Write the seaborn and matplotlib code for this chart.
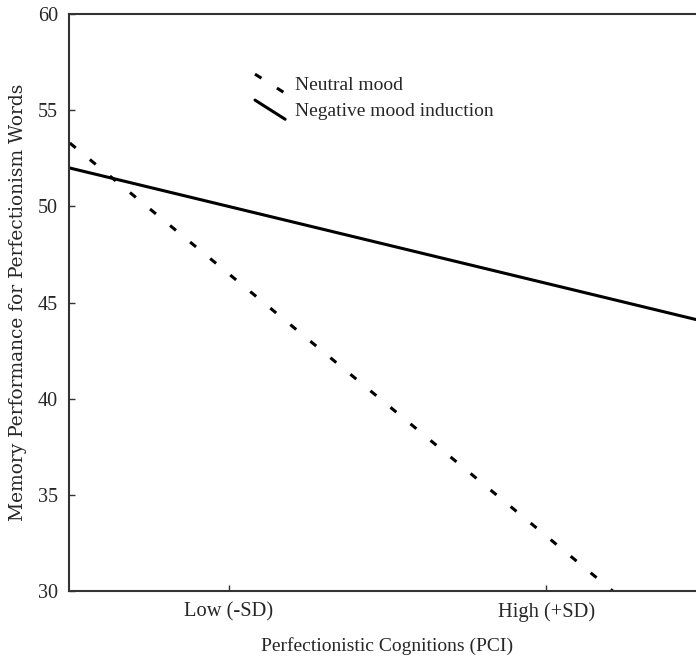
import numpy as np
import pandas as pd
import matplotlib
matplotlib.use("Agg")
import matplotlib.pyplot as plt
import seaborn as sns
from matplotlib.legend_handler import HandlerLine2D
from matplotlib.lines import Line2D

# ---- data ----
x_pos = [-2, -1, 1, 2]                      # -2SD edge, Low, High, +2SD edge
neutral = [53.3, 46.5, 32.85, 26.0]         # Neutral mood
negative = [52.0, 50.0, 46.0, 44.0]         # Negative mood induction
series_names = ["Neutral mood", "Negative mood induction"]
tick_pos = [-1, 1]
tick_labels = ["Low (-SD)", "High (+SD)"]
y_ticks = [30, 35, 40, 45, 50, 55, 60]

df = pd.DataFrame({
    "x": x_pos * 2,
    "y": neutral + negative,
    "series": [series_names[0]] * len(x_pos) + [series_names[1]] * len(x_pos),
})

sns.set_style("ticks")
plt.rcParams["font.family"] = ["Liberation Serif", "DejaVu Serif"]
plt.rcParams["xtick.direction"] = "in"
plt.rcParams["ytick.direction"] = "in"

fig = plt.figure(figsize=(6.96, 6.61), dpi=100)
ax = fig.add_axes([69 / 696, (661 - 590.7) / 661, 636 / 696, (590.7 - 14.3) / 661])

LW = 2.2
DASH = (2.5, 6.0)
dash_map = {series_names[0]: DASH, series_names[1]: ""}
sns.lineplot(data=df, x="x", y="y", hue="series", style="series",
             palette=["black", "black"], dashes=dash_map, linewidth=LW,
             ax=ax, legend=False)

ax.set_xlim(-2.005, 2.0)
ax.set_ylim(30, 60)
ax.set_xticks(tick_pos)
ax.set_xticklabels(tick_labels, fontsize=14.8)
ax.set_yticks(y_ticks)
ax.set_yticklabels([str(v) for v in y_ticks], fontsize=14.5)
ax.tick_params(axis="both", length=4, width=1, color="#333333")
ax.tick_params(axis="x", pad=8)
ax.tick_params(axis="y", pad=8)
ax.set_xlabel("Perfectionistic Cognitions (PCI)", fontsize=14, labelpad=11)
ax.set_ylabel("Memory Performance for Perfectionism Words",
              fontsize=13.4, labelpad=8, family=["DejaVu Serif"])

for side in ["left", "bottom", "top"]:
    ax.spines[side].set_linewidth(1.5)
    ax.spines[side].set_color("#333333")
ax.spines["right"].set_visible(False)


class DiagHandler(HandlerLine2D):
    def create_artists(self, legend, orig_handle, xdescent, ydescent,
                       width, height, fontsize, trans):
        x0 = -xdescent
        y0 = -ydescent
        line = Line2D([x0, x0 + width], [y0 + height * 1.05, y0 - height * 0.05])
        self.update_prop(line, orig_handle, legend)
        line.set_transform(trans)
        return [line]


handles = [
    Line2D([], [], color="black", linewidth=LW, dashes=DASH),
    Line2D([], [], color="black", linewidth=LW),
]
ax.legend(handles, series_names, loc="upper left",
          bbox_to_anchor=((255 - 69) / 636, 1 - (75 - 14.3) / 576.4),
          frameon=False, fontsize=14, borderpad=0, borderaxespad=0,
          handlelength=1.55, handleheight=1.0, handletextpad=0.5,
          labelspacing=0.34,
          handler_map={Line2D: DiagHandler()})

fig.savefig("out.png", dpi=100)
